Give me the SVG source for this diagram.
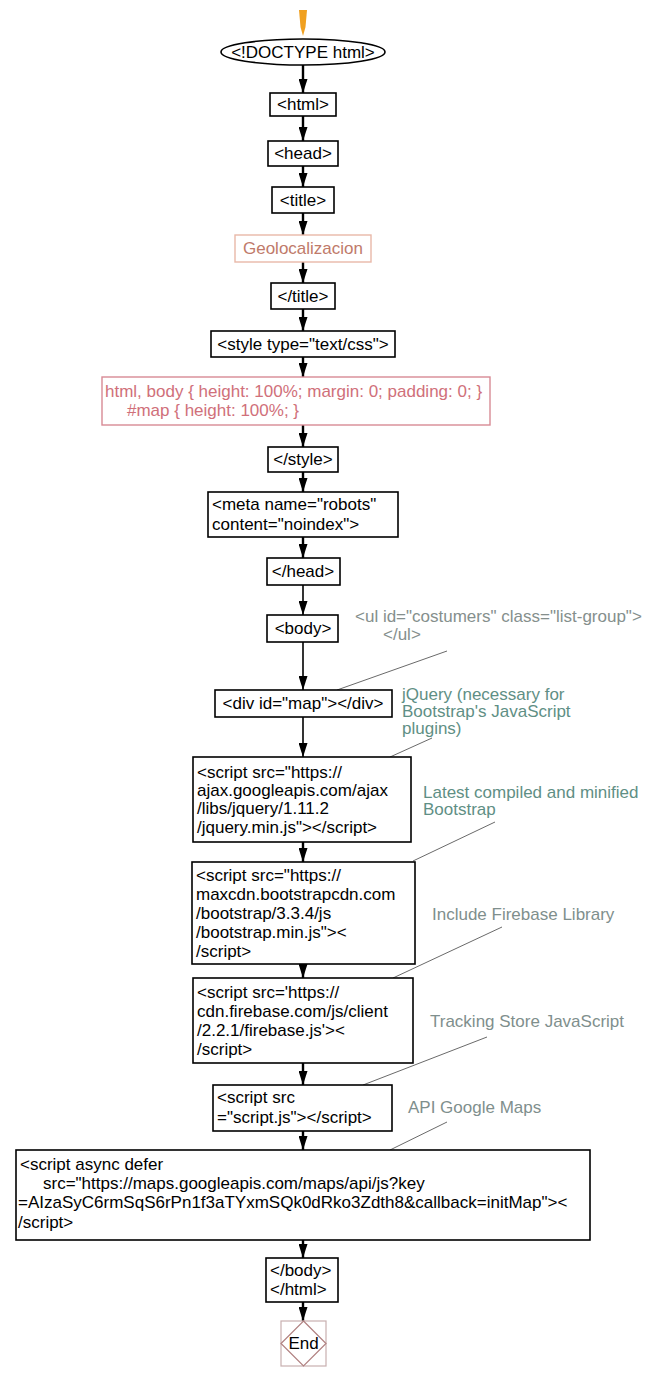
<svg xmlns="http://www.w3.org/2000/svg" width="653" height="1379" viewBox="0 0 653 1379">
<defs>
<style>
.box{fill:#fff;stroke:#000;stroke-width:1.6}
.t{font-family:"Liberation Sans",Arial,sans-serif;font-size:17px;fill:#000}
.c{text-anchor:middle}
.ann{font-family:"Liberation Sans",Arial,sans-serif;font-size:17px;fill:#5f8f85}
.annl{stroke:#6a6a6a;stroke-width:1;fill:none}
.conn{stroke:#000;stroke-width:2.4;fill:none}
</style>
<marker id="ah" viewBox="0 0 14 9" refX="14" refY="4.5" markerWidth="14" markerHeight="9" markerUnits="userSpaceOnUse" orient="auto">
<path d="M0,0 L14,4.5 L0,9 Z" fill="#000"/>
</marker>
</defs>
<rect width="653" height="1379" fill="#fff"/>

<g id="connectors">
<line class="conn" x1="303" y1="65" x2="303" y2="93" marker-end="url(#ah)"/>
<line class="conn" x1="303" y1="116" x2="303" y2="141" marker-end="url(#ah)"/>
<line class="conn" x1="303" y1="166" x2="303" y2="187" marker-end="url(#ah)"/>
<line class="conn" x1="303" y1="213" x2="303" y2="235" marker-end="url(#ah)"/>
<line class="conn" x1="303" y1="262" x2="303" y2="283" marker-end="url(#ah)"/>
<line class="conn" x1="303" y1="309" x2="303" y2="331" marker-end="url(#ah)"/>
<line class="conn" x1="303" y1="357" x2="303" y2="377" marker-end="url(#ah)"/>
<line class="conn" x1="303" y1="425" x2="303" y2="447" marker-end="url(#ah)"/>
<line class="conn" x1="303" y1="472" x2="303" y2="492" marker-end="url(#ah)"/>
<line class="conn" x1="303" y1="537" x2="303" y2="558" marker-end="url(#ah)"/>
<line class="conn" x1="303" y1="585" x2="303" y2="615" marker-end="url(#ah)" style="stroke-width:1.6"/>
<line class="conn" x1="303" y1="642" x2="303" y2="690" marker-end="url(#ah)" style="stroke-width:1.6"/>
<line class="conn" x1="303" y1="717" x2="303" y2="757" marker-end="url(#ah)" style="stroke-width:1.6"/>
<line class="conn" x1="303" y1="842" x2="303" y2="862" marker-end="url(#ah)"/>
<line class="conn" x1="303" y1="964" x2="303" y2="978" marker-end="url(#ah)"/>
<line class="conn" x1="303" y1="1063" x2="303" y2="1085" marker-end="url(#ah)"/>
<line class="conn" x1="303" y1="1131" x2="303" y2="1150" marker-end="url(#ah)"/>
<line class="conn" x1="303" y1="1240" x2="303" y2="1258" marker-end="url(#ah)"/>
<line class="conn" x1="303" y1="1302" x2="303" y2="1321" marker-end="url(#ah)"/>
<line class="annl" x1="447" y1="651" x2="337" y2="690"/>
<line class="annl" x1="432" y1="738" x2="390" y2="757"/>
<line class="annl" x1="495" y1="822" x2="413" y2="861"/>
<line class="annl" x1="502" y1="927" x2="393" y2="978"/>
<line class="annl" x1="487" y1="1037" x2="363" y2="1085"/>
<line class="annl" x1="447" y1="1122" x2="390" y2="1150"/>
</g>

<g id="start">
<path d="M299,10 L307,10 L305.5,27 L303,36 L300.5,27 Z" fill="#f0a020"/>
</g>

<g id="doctype">
<ellipse cx="303" cy="52" rx="82" ry="13" fill="#fff" stroke="#000" stroke-width="1.6"/>
<text class="t c" x="303" y="58">&lt;!DOCTYPE html&gt;</text>
</g>

<g id="html">
<rect class="box" x="270" y="93" width="66" height="23"/>
<text class="t c" x="303" y="110">&lt;html&gt;</text>
</g>

<g id="head">
<rect class="box" x="268" y="141" width="70" height="25"/>
<text class="t c" x="303" y="159">&lt;head&gt;</text>
</g>

<g id="title">
<rect class="box" x="272" y="187" width="62" height="26"/>
<text class="t c" x="303" y="206">&lt;title&gt;</text>
</g>

<g id="titletext">
<rect x="235" y="235" width="136" height="27" fill="#fff" stroke="#e8b8a8" stroke-width="1.4"/>
<text class="t c" x="303" y="254" style="fill:#c07a6a">Geolocalizacion</text>
</g>

<g id="titleclose">
<rect class="box" x="271" y="283" width="64" height="26"/>
<text class="t c" x="303" y="302">&lt;/title&gt;</text>
</g>

<g id="style">
<rect class="box" x="211" y="331" width="184" height="26"/>
<text class="t c" x="303" y="350">&lt;style type="text/css"&gt;</text>
</g>

<g id="css">
<rect x="102" y="377" width="388" height="48" fill="#fff" stroke="#d88a95" stroke-width="1.4"/>
<text class="t" style="fill:#d0707a"><tspan x="105" y="397">html, body { height: 100%; margin: 0; padding: 0; }</tspan><tspan x="127" y="416">#map { height: 100%; }</tspan></text>
</g>

<g id="styleclose">
<rect class="box" x="268" y="447" width="70" height="25"/>
<text class="t c" x="303" y="465">&lt;/style&gt;</text>
</g>

<g id="meta">
<rect class="box" x="208" y="492" width="190" height="45"/>
<text class="t"><tspan x="212" y="510">&lt;meta name="robots"</tspan><tspan x="212" y="530">content="noindex"&gt;</tspan></text>
</g>

<g id="headclose">
<rect class="box" x="267" y="558" width="73" height="27"/>
<text class="t c" x="303" y="577">&lt;/head&gt;</text>
</g>

<g id="body">
<rect class="box" x="267" y="615" width="71" height="27"/>
<text class="t c" x="303" y="634">&lt;body&gt;</text>
</g>

<g id="ul-note">
<text class="ann" style="fill:#858f8d"><tspan x="355" y="622">&lt;ul id="costumers" class="list-group"&gt;</tspan><tspan x="383" y="640">&lt;/ul&gt;</tspan></text>
</g>

<g id="div">
<rect class="box" x="215" y="690" width="177" height="27"/>
<text class="t c" x="303" y="709">&lt;div id="map"&gt;&lt;/div&gt;</text>
</g>

<g id="jquery-note">
<text class="ann"><tspan x="402" y="700">jQuery (necessary for</tspan><tspan x="402" y="717">Bootstrap's JavaScript</tspan><tspan x="402" y="734">plugins)</tspan></text>
</g>

<g id="script1">
<rect class="box" x="193" y="757" width="218" height="85"/>
<text class="t"><tspan x="197" y="778">&lt;script src="https://</tspan><tspan x="197" y="796">ajax.googleapis.com/ajax</tspan><tspan x="197" y="814">/libs/jquery/1.11.2</tspan><tspan x="197" y="833">/jquery.min.js"&gt;&lt;/script&gt;</tspan></text>
</g>

<g id="bootstrap-note">
<text class="ann"><tspan x="423" y="798">Latest compiled and minified</tspan><tspan x="423" y="815">Bootstrap</tspan></text>
</g>

<g id="script2">
<rect class="box" x="192" y="862" width="223" height="102"/>
<text class="t"><tspan x="196" y="881">&lt;script src="https://</tspan><tspan x="196" y="900">maxcdn.bootstrapcdn.com</tspan><tspan x="196" y="919">/bootstrap/3.3.4/js</tspan><tspan x="196" y="938">/bootstrap.min.js"&gt;&lt;</tspan><tspan x="196" y="957">/script&gt;</tspan></text>
</g>

<g id="firebase-note">
<text class="ann" x="432" y="920" style="fill:#7f8f8d">Include Firebase Library</text>
</g>

<g id="script3">
<rect class="box" x="193" y="978" width="220" height="85"/>
<text class="t"><tspan x="197" y="998">&lt;script src='https://</tspan><tspan x="197" y="1017">cdn.firebase.com/js/client</tspan><tspan x="197" y="1036">/2.2.1/firebase.js'&gt;&lt;</tspan><tspan x="197" y="1055">/script&gt;</tspan></text>
</g>

<g id="tracking-note">
<text class="ann" x="430" y="1027" style="fill:#7f8f8d">Tracking Store JavaScript</text>
</g>

<g id="script4">
<rect class="box" x="213" y="1085" width="179" height="46"/>
<text class="t"><tspan x="217" y="1103">&lt;script src</tspan><tspan x="217" y="1123">="script.js"&gt;&lt;/script&gt;</tspan></text>
</g>

<g id="maps-note">
<text class="ann" x="408" y="1113" style="fill:#7f8f8d">API Google Maps</text>
</g>

<g id="script5">
<rect class="box" x="16" y="1150" width="574" height="90"/>
<text class="t"><tspan x="20" y="1170">&lt;script async defer</tspan><tspan x="43" y="1189">src="https://maps.googleapis.com/maps/api/js?key</tspan><tspan x="18" y="1208">=AIzaSyC6rmSqS6rPn1f3aTYxmSQk0dRko3Zdth8&amp;callback=initMap"&gt;&lt;</tspan><tspan x="18" y="1228">/script&gt;</tspan></text>
</g>

<g id="bodyclose">
<rect class="box" x="266" y="1258" width="72" height="44"/>
<text class="t"><tspan x="270" y="1276">&lt;/body&gt;</tspan><tspan x="270" y="1295">&lt;/html&gt;</tspan></text>
</g>

<g id="end">
<rect x="281" y="1321" width="45" height="45" fill="#fff" stroke="#c8b0b0" stroke-width="1.2"/>
<polygon points="303.5,1321 326,1343.5 303.5,1366 281,1343.5" fill="#fff" stroke="#b08080" stroke-width="1.2"/>
<text class="t c" x="303.5" y="1349">End</text>
</g>
</svg>
